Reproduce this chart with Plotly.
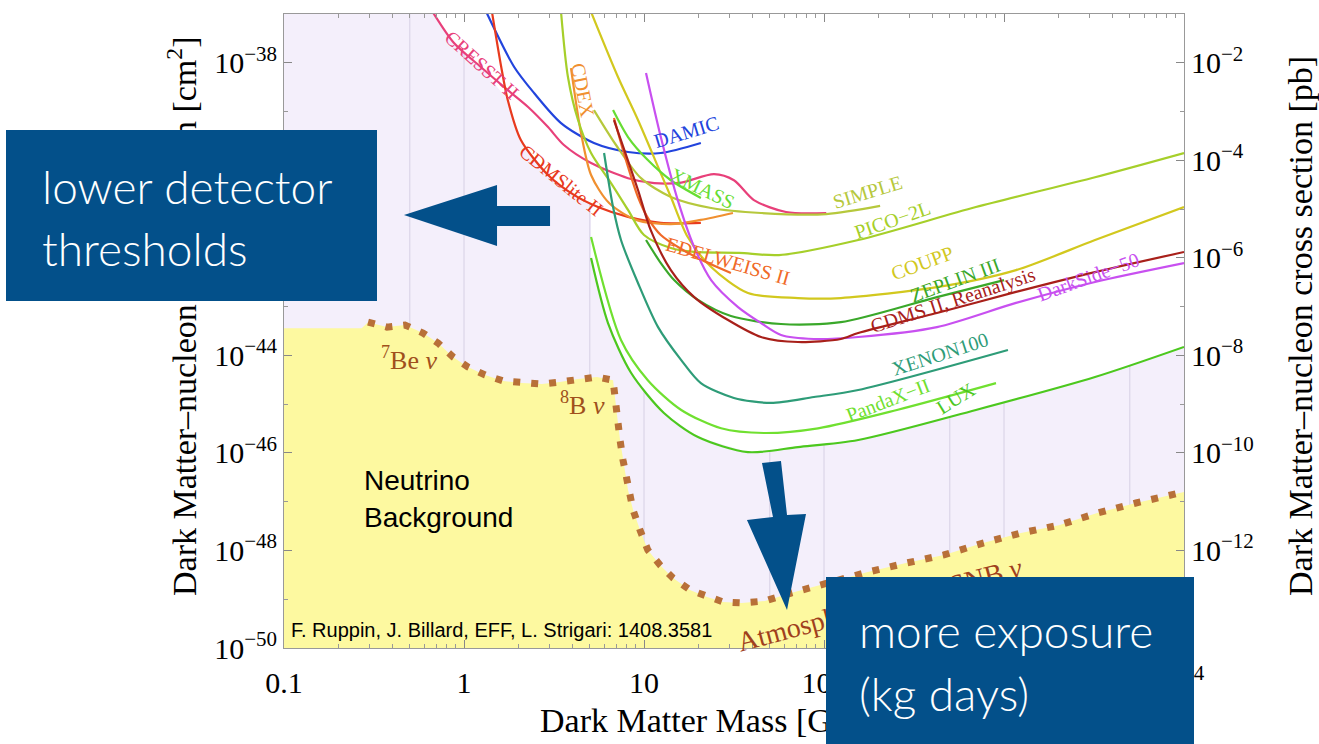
import numpy as np
import plotly.graph_objects as go

# ---------------- data (mass in GeV, cross section in cm^2) ----------------
cresst_m = [0.67, 0.88, 1.24, 1.75, 2.27, 2.93, 3.59, 5.08, 8.15, 11.4, 16.1, 24.5, 31.6, 40.8, 61.5, 103]
cresst_s = [1.1e-37, 2.54e-38, 8.2e-39, 2.75e-39, 1.24e-39, 4.8e-40, 2.06e-40, 8.8e-41, 4.3e-41, 3.4e-41,
            3.5e-41, 5.2e-41, 3.9e-41, 1.53e-41, 8.7e-42, 8.3e-42]

damic_m = [1.33, 1.90, 2.45, 3.46, 5.27, 8.15, 12.4, 20.7]
damic_s = [1.1e-37, 8.2e-39, 2.4e-39, 5.8e-40, 2.26e-40, 1.48e-40, 1.41e-40, 2.26e-40]

cdmslite_m = [1.43, 1.61, 1.75, 2.07, 2.93, 4.08, 5.55, 8.15, 12.4, 20.7]
cdmslite_s = [1.1e-37, 8.2e-39, 1.72e-39, 2.6e-40, 5.0e-41, 1.95e-41, 1.10e-41, 6.9e-42, 5.2e-42, 5.2e-42]

cdex_m = [3.93, 4.47, 5.08, 6.40, 9.03, 14.1, 20.7, 31.2]
cdex_s = [7.8e-39, 3.6e-40, 5.0e-41, 1.33e-41, 6.0e-42, 4.9e-42, 6.0e-42, 8.3e-42]

xmass_m = [6.73, 8.15, 10.5, 14.1, 20.7]
xmass_s = [1.07e-39, 3.0e-40, 1.01e-40, 3.9e-41, 1.69e-41]

edelweiss_m = [6.81, 7.94, 9.26, 10.5, 12.4, 16.1, 22.1, 30.4]
edelweiss_s = [7.4e-40, 1.01e-40, 1.77e-41, 6.6e-42, 2.94e-42, 1.52e-42, 8.2e-43, 4.9e-43]

simple_m = [5.27, 6.99, 9.62, 14.1, 23.6, 44.7, 103, 205]
simple_s = [1.07e-39, 2.06e-40, 4.3e-41, 1.77e-41, 1.05e-41, 8.3e-42, 7.9e-42, 1.16e-41]

pico_m = [3.46, 3.78, 4.30, 5.08, 6.56, 8.15, 10.0, 14.1, 19.0, 33.7, 56.2, 155, 698, 3204, 10000]
pico_s = [1.1e-37, 5.1e-39, 6.7e-40, 1.41e-40, 3.4e-41, 9.6e-42, 2.94e-42, 1.59e-42, 1.32e-42, 1.26e-42,
          1.14e-42, 2.32e-42, 1.10e-41, 4.5e-41, 1.41e-40]

coupp_m = [5.08, 7.17, 9.26, 11.97, 14.1, 17.5, 23.6, 37.8, 71.7, 124, 424, 1166, 3204, 10000]
coupp_s = [1.1e-37, 5.1e-39, 6.7e-40, 7.3e-41, 1.77e-41, 2.67e-42, 6.5e-43, 1.9e-43, 1.50e-43, 1.50e-43,
           2.5e-43, 5.6e-43, 2.32e-42, 1.10e-41]

darkside_m = [10.26, 12.4, 15.4, 19.0, 23.6, 33.3, 44.7, 57.7, 87.9, 155, 424, 1166, 3204, 10000]
darkside_s = [6.2e-39, 3.0e-40, 1.53e-41, 1.67e-42, 3.5e-43, 9.8e-44, 4.6e-44, 2.62e-44, 2.17e-44, 2.38e-44,
              3.8e-44, 1.19e-43, 3.2e-43, 7.8e-43]

cdms2_m = [6.81, 9.26, 10.9, 14.1, 19.0, 29.3, 44.7, 71.7, 124, 155, 424, 1166, 3204, 10000]
cdms2_s = [6.7e-40, 2.46e-41, 3.7e-42, 5.6e-43, 1.57e-43, 5.3e-44, 2.38e-44, 1.88e-44, 2.17e-44, 2.88e-44,
           7.4e-44, 2.0e-43, 5.1e-43, 1.32e-42]

zeplin_m = [10.26, 12.4, 14.7, 19.95, 30.4, 57.7, 124, 424, 1000]
zeplin_s = [2.32e-42, 7.8e-43, 3.5e-43, 1.37e-43, 6.4e-44, 4.4e-44, 4.8e-44, 1.57e-43, 3.5e-43]

xenon_m = [6.0, 6.73, 7.45, 9.26, 11.97, 16.1, 20.7, 31.6, 50.8, 87.9, 155, 1052]
xenon_s = [1.41e-40, 1.10e-41, 2.32e-42, 3.05e-43, 3.8e-44, 8.0e-45, 2.7e-45, 1.34e-45, 1.06e-45, 1.40e-45,
           1.95e-45, 1.29e-44]

pandax_m = [5.08, 7.45, 10.5, 16.1, 26.8, 46.4, 92.6, 254, 903]
pandax_s = [2.67e-42, 2.07e-44, 3.1e-45, 7.6e-46, 3.2e-46, 2.56e-46, 3.2e-46, 7.6e-46, 2.7e-45]

lux_m = [5.08, 6.31, 8.47, 12.9, 19.95, 37.8, 71.7, 155, 698, 3204, 10000]
lux_s = [9.9e-43, 4.6e-44, 4.4e-45, 6.6e-46, 2.12e-46, 1.04e-46, 1.32e-46, 1.84e-46, 7.6e-46, 3.6e-45, 1.49e-44]

# neutrino floor
floor_m = [0.293, 0.373, 0.470, 0.592, 0.717, 0.869, 1.05, 1.31, 1.65, 2.10, 2.71, 3.41, 4.30, 5.48, 6.73,
           6.90, 7.08, 7.36, 7.64, 8.15, 8.69, 9.5, 10.5, 12.3, 14.5, 18.0, 22.4, 27.5, 35.0, 47.0, 65.6,
           108, 175, 285, 464, 764, 1243, 2020, 3327, 5410, 10000]
floor_s = [4.8e-44, 3.8e-44, 4.2e-44, 2.88e-44, 1.79e-44, 9.3e-45, 5.8e-45, 3.96e-45, 2.99e-45, 2.72e-45,
           2.59e-45, 2.84e-45, 3.28e-45, 3.6e-45, 3.1e-45, 1.22e-45, 6.0e-46, 1.84e-46, 7.2e-47, 1.74e-47,
           6.8e-48, 2.63e-48, 1.02e-48, 5.0e-49, 2.72e-49, 1.55e-49, 1.11e-49, 8.8e-50, 8.4e-50, 9.2e-50,
           1.34e-49, 2.25e-49, 3.6e-49, 5.5e-49, 8.1e-49, 1.42e-48, 2.28e-48, 3.3e-48, 5.9e-48, 9.4e-48, 1.58e-47]
floor_plateau_m = [0.1, 0.27]
floor_plateau_s = [3.6e-44, 3.6e-44]

x_ticks = [0.1, 1, 10, 100, 1000, 10000]
x_ticktext = ["0.1", "1", "10", "100", "1000", "10<sup>4</sup>"]
y_ticks = [1e-50, 1e-48, 1e-46, 1e-44, 1e-42, 1e-40, 1e-38]
y_ticktext = ["10<sup>\u221250</sup>", "10<sup>\u221248</sup>", "10<sup>\u221246</sup>", "10<sup>\u221244</sup>",
              "10<sup>\u221242</sup>", "10<sup>\u221240</sup>", "10<sup>\u221238</sup>"]
y2_ticks = [1e-12, 1e-10, 1e-8, 1e-6, 1e-4, 1e-2]
y2_ticktext = ["10<sup>\u221212</sup>", "10<sup>\u221210</sup>", "10<sup>\u22128</sup>", "10<sup>\u22126</sup>",
               "10<sup>\u22124</sup>", "10<sup>\u22122</sup>"]
grid_x = [0.5, 1, 5, 10, 50, 100, 500, 1000, 5000]

# ---------------- styles ----------------
SERIF = "Liberation Serif, Times New Roman, serif"
SANS = "Liberation Sans, Arial, sans-serif"
LIGHT = "Lato, Open Sans, sans-serif"
BLUE = "#03508a"
BROWN = "#b87038"

curves = [
    ("CRESST-II", cresst_m, cresst_s, "#e8407a"),
    ("DAMIC", damic_m, damic_s, "#2244dd"),
    ("CDMSlite II", cdmslite_m, cdmslite_s, "#e83a1e"),
    ("CDEX", cdex_m, cdex_s, "#f09030"),
    ("SIMPLE", simple_m, simple_s, "#b6c83c"),
    ("PICO-2L", pico_m, pico_s, "#a6cf2a"),
    ("COUPP", coupp_m, coupp_s, "#d2c81e"),
    ("XMASS", xmass_m, xmass_s, "#66dd33"),
    ("EDELWEISS II", edelweiss_m, edelweiss_s, "#f06a28"),
    ("ZEPLIN III", zeplin_m, zeplin_s, "#3aa82a"),
    ("DarkSide-50", darkside_m, darkside_s, "#c850f0"),
    ("CDMS II, Reanalysis", cdms2_m, cdms2_s, "#a8201a"),
    ("XENON100", xenon_m, xenon_s, "#2e9c78"),
    ("PandaX-II", pandax_m, pandax_s, "#70e030"),
    ("LUX", lux_m, lux_s, "#4cc81e"),
]

fig = go.Figure()

# vertical grid lines (drawn first, hidden under the excluded white region)
gx, gy = [], []
for v in grid_x:
    gx += [v, v, None]
    gy += [1e-51, 1e-36, None]
fig.add_trace(go.Scatter(x=gx, y=gy, mode="lines", line=dict(color="#d6d0e4", width=1),
                         hoverinfo="skip", showlegend=False))

# excluded (white) region above the envelope of the limits
cut_m = lux_m[0]
cut_s = 10 ** np.interp(np.log10(cut_m), np.log10(cdmslite_m), np.log10(cdmslite_s))
env_m = cresst_m[:3] + cdmslite_m[2:6] + [cut_m] + lux_m + [10000, cresst_m[0]]
env_s = cresst_s[:3] + cdmslite_s[2:6] + [cut_s] + lux_s + [1.2e-37, 1.2e-37]
fig.add_trace(go.Scatter(x=env_m, y=env_s, mode="lines", fill="toself", fillcolor="white",
                         line=dict(width=0, color="white"), hoverinfo="skip", showlegend=False))

# neutrino background fill
fill_m = floor_plateau_m + floor_m + [10000, 0.1]
fill_s = floor_plateau_s + floor_s + [1e-51, 1e-51]
fig.add_trace(go.Scatter(x=fill_m, y=fill_s, mode="lines", fill="toself", fillcolor="#fdf9a0",
                         line=dict(width=0, color="#fdf9a0"), hoverinfo="skip", showlegend=False))

# limit curves
for name, m, s, col in curves:
    fig.add_trace(go.Scatter(x=m, y=s, mode="lines", name=name,
                             line=dict(color=col, width=2.2, shape="spline", smoothing=0.8),
                             showlegend=False))

# neutrino floor dotted line
fig.add_trace(go.Scatter(x=floor_m, y=floor_s, mode="lines",
                         line=dict(color=BROWN, width=7, dash="7px,11px"),
                         hoverinfo="skip", showlegend=False))

# invisible trace to anchor the right (pb) axis
fig.add_trace(go.Scatter(x=[0.1, 10000], y=[1e-14, 1e-1], yaxis="y2", mode="markers",
                         marker=dict(opacity=0), hoverinfo="skip", showlegend=False))


def pp(px, py):
    return (px - 284) / 900.0, (648 - py) / 634.0


ann = []


def text(t, px, py, size, color, family=SERIF, angle=0, xanchor="center", yanchor="middle", weight=None):
    x, y = pp(px, py)
    f = dict(family=family, size=size, color=color)
    if weight is not None:
        f["weight"] = weight
    ann.append(dict(text=t, x=x, y=y, xref="paper", yref="paper", showarrow=False, textangle=angle,
                    xanchor=xanchor, yanchor=yanchor, font=f))


# axis titles
text("Dark Matter\u2013nucleon cross section [cm<sup>2</sup>]", 182, 316, 34, "black", angle=-90)
text("Dark Matter\u2013nucleon cross section [pb]", 1300, 326, 34, "black", angle=-90)
text("Dark Matter Mass [GeV]", 538, 720, 34, "black", xanchor="left")

# curve labels
labels = [
    ("CRESST-II", 482, 65, 42, "#e8407a"),
    ("CDMSlite II", 561, 180, 39, "#e83a1e"),
    ("CDEX", 583, 90, 79, "#f09030"),
    ("DAMIC", 686, 132, -17, "#2244dd"),
    ("XMASS", 702, 188, 26, "#66dd33"),
    ("SIMPLE", 867, 192, -17, "#b6c83c"),
    ("PICO\u22122L", 892, 220, -19, "#a6cf2a"),
    ("EDELWEISS II", 728, 261, 16, "#f06a28"),
    ("COUPP", 922, 263, -20, "#d2c81e"),
    ("ZEPLIN III", 955, 280, -20, "#3aa82a"),
    ("CDMS II, Reanalysis", 953, 300, -18, "#a8201a"),
    ("DarkSide\u221250", 1088, 277, -20, "#c850f0"),
    ("XENON100", 940, 354, -18, "#2e9c78"),
    ("PandaX\u2212II", 888, 400, -21, "#70e030"),
    ("LUX", 956, 398, -32, "#4cc81e"),
]
for t, px, py, a, c in labels:
    text(t, px, py, 20, c, angle=a)

# neutrino labels
text("<sup>7</sup>Be <i>\u03bd</i>", 409, 358, 26, "#a0501c")
text("<sup>8</sup>B <i>\u03bd</i>", 582, 403, 26, "#a0501c")
text("Atmospheric and DSNB <i>\u03bd</i>", 880, 604, 28, "#a0401c", angle=-15)
text("Neutrino", 362, 480, 28, "black", family=SANS, xanchor="left")
text("Background", 362, 517, 28, "black", family=SANS, xanchor="left")
text("F. Ruppin, J. Billard, EFF, L. Strigari: 1408.3581", 289, 630, 20, "black", family=SANS, xanchor="left")

# blue boxes (on top of the labels and titles)
bx, by = pp(6, 130)
ann.append(dict(text=" ", x=bx, y=by, xref="paper", yref="paper", xanchor="left", yanchor="top",
                showarrow=False, width=371, height=171, bgcolor=BLUE, borderpad=0, borderwidth=0))
bx, by = pp(826, 577)
ann.append(dict(text=" ", x=bx, y=by, xref="paper", yref="paper", xanchor="left", yanchor="top",
                showarrow=False, width=368, height=175, bgcolor=BLUE, borderpad=0, borderwidth=0))

text("lower detector", 40, 186, 46, "white", family=LIGHT, xanchor="left", weight=300)
text("thresholds", 40, 248, 46, "white", family=LIGHT, xanchor="left", weight=300)
text("more exposure", 857, 630, 46, "white", family=LIGHT, xanchor="left", weight=300)
text("(kg days)", 857, 693, 46, "white", family=LIGHT, xanchor="left", weight=300)

# arrows
def path(pts):
    s = ""
    for i, (px, py) in enumerate(pts):
        x, y = pp(px, py)
        s += ("M" if i == 0 else "L") + f"{x:.4f},{y:.4f} "
    return s + "Z"


shapes = [
    dict(type="path", xref="paper", yref="paper", layer="above", fillcolor=BLUE, line=dict(width=0),
         path=path([(404, 215), (497, 185), (497, 206), (550, 206), (550, 226), (497, 226), (497, 246)])),
    dict(type="path", xref="paper", yref="paper", layer="above", fillcolor=BLUE, line=dict(width=0),
         path=path([(762, 463), (781, 461), (787, 515), (806, 514), (787, 610), (747, 520), (773, 517)])),
]

tickfont = dict(family=SERIF, size=30, color="black")
x_minor = [k * 10.0 ** n for n in range(-1, 4) for k in range(2, 10)]
y_minor = [10.0 ** e for e in range(-50, -36)]
y2_minor = [10.0 ** e for e in range(-14, 0)]

fig.update_layout(
    width=1319, height=744,
    margin=dict(l=284, r=135, t=14, b=96),
    paper_bgcolor="white", plot_bgcolor="#f4effb",
    showlegend=False,
    annotations=ann, shapes=shapes,
    xaxis=dict(type="log", range=[-1, 4], tickmode="array", tickvals=x_ticks, ticktext=x_ticktext,
               ticks="inside", ticklen=8, tickcolor="#888", showline=True, linecolor="#999", linewidth=1,
               mirror="ticks", showgrid=False, zeroline=False, tickfont=tickfont, ticklabelstandoff=8,
               minor=dict(tickmode="array", tickvals=x_minor, ticks="inside", ticklen=4, tickcolor="#999",
                          showgrid=False)),
    yaxis=dict(type="log", range=[-50, -37], tickmode="array", tickvals=y_ticks, ticktext=y_ticktext,
               ticks="inside", ticklen=8, tickcolor="#888", showline=True, linecolor="#999", linewidth=1,
               showgrid=False, zeroline=False, tickfont=tickfont,
               minor=dict(tickmode="array", tickvals=y_minor, ticks="inside", ticklen=4, tickcolor="#999",
                          showgrid=False)),
    yaxis2=dict(type="log", range=[-14, -1], overlaying="y", side="right", tickmode="array",
                tickvals=y2_ticks, ticktext=y2_ticktext, ticks="inside", ticklen=8, tickcolor="#888",
                showline=True, linecolor="#999", linewidth=1, showgrid=False, zeroline=False,
                tickfont=tickfont,
                minor=dict(tickmode="array", tickvals=y2_minor, ticks="inside", ticklen=4, tickcolor="#999",
                           showgrid=False)),
)

fig.write_html("out.html")
